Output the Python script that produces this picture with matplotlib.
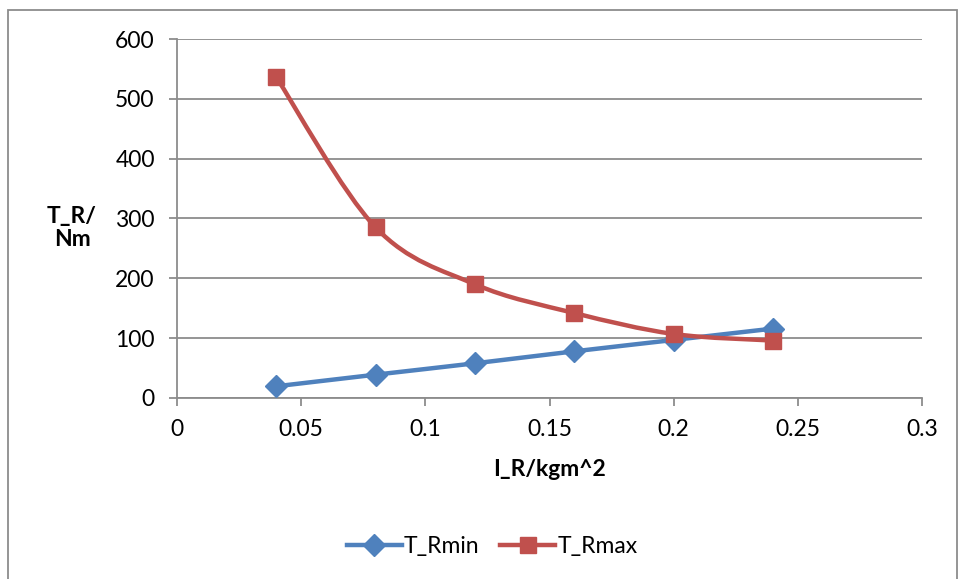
import matplotlib
matplotlib.use("Agg")
import matplotlib.pyplot as plt
from matplotlib.path import Path
from matplotlib.patches import PathPatch, Rectangle
from matplotlib.lines import Line2D

plt.rcParams['font.family'] = ['Lato', 'DejaVu Sans']

I_R = [0.04, 0.08, 0.12, 0.16, 0.20, 0.24]
T_Rmin = [19.6, 39, 58, 78, 97, 116]
T_Rmax = [536, 285, 190, 142, 107, 96]
x_ticks = [0, 0.05, 0.1, 0.15, 0.2, 0.25, 0.3]
x_tick_labels = ["0", "0.05", "0.1", "0.15", "0.2", "0.25", "0.3"]
y_ticks = [0, 100, 200, 300, 400, 500, 600]

BLUE = "#4F81BD"
RED = "#C0504D"
GRID = "#8C8C8C"
FS = 16.5

fig = plt.figure(figsize=(9.6, 5.79), dpi=100)
ax = fig.add_axes([177/960, 1-398/579, (922-177)/960, (398-39)/579])

# outer border
fig.patches.append(Rectangle((8/960, -0.01), (957-8)/960, 1-10/579+0.01,
                             transform=fig.transFigure, fill=False,
                             edgecolor="#8C8C8C", linewidth=1.3))


def smooth_path(xs, ys, ax):
    # Excel-style Bezier smoothing computed in display space
    pts = ax.transData.transform(list(zip(xs, ys)))
    n = len(pts)
    verts = [tuple(pts[0])]
    codes = [Path.MOVETO]
    for i in range(n - 1):
        p0 = pts[i - 1] if i > 0 else pts[i]
        p1 = pts[i]
        p2 = pts[i + 1]
        p3 = pts[i + 2] if i + 2 < n else pts[i + 1]
        c1 = p1 + (p2 - p0) / 6.0
        c2 = p2 - (p3 - p1) / 6.0
        verts += [tuple(c1), tuple(c2), tuple(p2)]
        codes += [Path.CURVE4] * 3
    inv = ax.transData.inverted()
    verts = inv.transform(verts)
    return Path(verts, codes)


ax.set_xlim(0, 0.3)
ax.set_ylim(0, 600)
ax.set_xticks(x_ticks)
ax.set_xticklabels(x_tick_labels)
ax.set_yticks(y_ticks)

for ys, col, mk, ms in [(T_Rmin, BLUE, "D", 11), (T_Rmax, RED, "s", 11.5)]:
    p = smooth_path(I_R, ys, ax)
    ax.add_patch(PathPatch(p, facecolor="none", edgecolor=col, lw=3.2,
                           capstyle="round", joinstyle="round", zorder=3))
    ax.plot(I_R, ys, linestyle="none", marker=mk, markersize=ms,
            color=col, markeredgecolor=col, zorder=4)

ax.grid(axis="y", color=GRID, linewidth=1.3)
ax.set_axisbelow(True)
for s in ["top", "right"]:
    ax.spines[s].set_visible(False)
for s in ["left", "bottom"]:
    ax.spines[s].set_color(GRID)
    ax.spines[s].set_linewidth(1.3)
ax.tick_params(axis="both", direction="out", length=6, width=1.3,
               color=GRID, labelsize=FS, labelcolor="black")
ax.tick_params(axis="x", pad=9)
ax.tick_params(axis="y", pad=10)

ax.set_xlabel("I_R/kgm^2", fontsize=FS, fontweight="bold", labelpad=14)
fig.text(72/960, 1-228/579, "T_R/\nNm", fontsize=FS, fontweight="bold",
         ha="center", va="center", linespacing=1.15)

handles = [Line2D([], [], color=BLUE, lw=3.2, marker="D", markersize=11),
           Line2D([], [], color=RED, lw=3.2, marker="s", markersize=11)]
fig.legend(handles, ["T_Rmin", "T_Rmax"], loc="center",
           bbox_to_anchor=(492/960, 1-547/579), ncol=2, frameon=False,
           fontsize=FS, handlelength=2.4, columnspacing=0.9, handletextpad=0.1)

fig.savefig("out.png", dpi=100)
